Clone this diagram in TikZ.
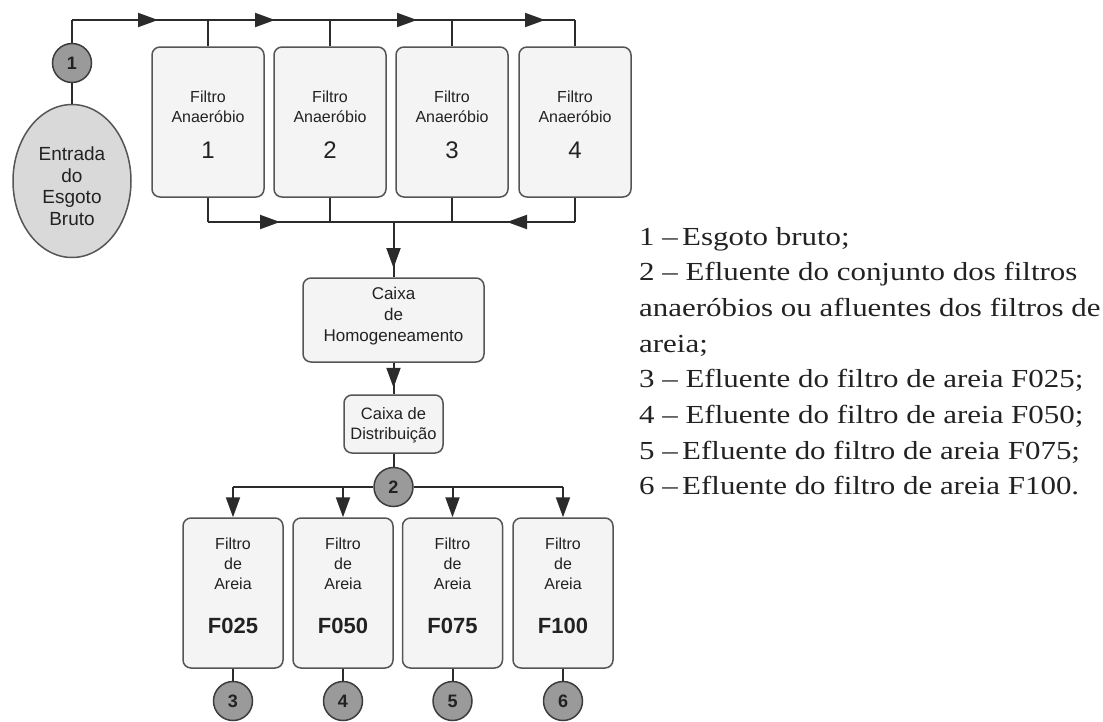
\documentclass[tikz,border=0pt]{standalone}
\usepackage{fontspec}
\setmainfont{Liberation Sans}
\newfontfamily\legendfont[FakeStretch=1.19]{Liberation Serif}
\usetikzlibrary{shapes.geometric,arrows.meta,decorations.markings}
\definecolor{linec}{HTML}{2B2B2B}
\definecolor{boxdraw}{HTML}{555555}
\definecolor{boxfill}{HTML}{F4F4F4}
\definecolor{dotfill}{HTML}{9A9A9A}
\definecolor{dotdraw}{HTML}{3C3C3C}
\definecolor{ellfill}{HTML}{D9D9D9}
\definecolor{txtc}{HTML}{222222}
\newcommand\mytip{\arrow{Triangle[length=20pt,width=14pt]}}
\tikzset{
  flow/.style={draw=linec, line width=2pt},
  tipend/.style={-{Triangle[length=20pt,width=14pt]}},
  boxnode/.style={rectangle, rounded corners=8pt, draw=boxdraw, line width=1.5pt, fill=boxfill, inner sep=0pt},
  dotnode/.style={circle, minimum size=39pt, inner sep=0pt, fill=dotfill, draw=dotdraw, line width=1.5pt, text=txtc, font=\bfseries\fontsize{18}{18}\selectfont},
  ellnode/.style={ellipse, minimum width=118pt, minimum height=153pt, inner sep=0pt, fill=ellfill, draw=boxdraw, line width=1.5pt},
  btxt/.style={align=center, text=txtc, inner sep=0pt, font=\fontsize{16}{20}\selectfont},
  bnum/.style={text=txtc, inner sep=0pt, font=\fontsize{24}{24}\selectfont},
  bbold/.style={text=txtc, inner sep=0pt, font=\bfseries\fontsize{22}{22}\selectfont},
  leg/.style={anchor=base west, inner sep=0pt, text=txtc, font=\legendfont\fontsize{26}{30}\selectfont},
}
\begin{document}
\begin{tikzpicture}[x=1pt,y=-1pt]
\path[use as bounding box] (0,0) rectangle (1103,721);

% inlet
\node[ellnode] (ent) at (72,181) {};
\node[btxt, font=\fontsize{19}{21.5}\selectfont] (entt) at (72,186) {Entrada\\do\\Esgoto\\Bruto};
\node[dotnode] (c1) at (72,63) {1};

% anaerobic filters
\foreach \n/\x in {1/208,2/330,3/452,4/575}{
  \node[boxnode, minimum width=112pt, minimum height=150pt] (a\n) at (\x,122) {};
  \node[btxt] (a\n t) at (\x,107) {Filtro\\Anaeróbio};
  \node[bnum] (a\n n) at (\x,150) {\n};
}

% boxes
\node[boxnode, minimum width=181pt, minimum height=84pt] (h) at (393.5,320) {};
\node[btxt, font=\fontsize{17}{21}\selectfont] (ht) at (393.5,316) {Caixa\\de\\Homogeneamento};
\node[boxnode, minimum width=99pt, minimum height=58pt] (d) at (393.5,424) {};
\node[btxt, font=\fontsize{16.5}{20}\selectfont] (dt) at (393.5,425) {Caixa de\\Distribuição};
\node[dotnode] (c2) at (393.5,487) {2};

% sand filters
\foreach \n/\x/\lab/\k in {1/233/F025/3,2/343/F050/4,3/452.5/F075/5,4/563/F100/6}{
  \node[boxnode, minimum width=100pt, minimum height=150pt] (s\n) at (\x,593) {};
  \node[btxt] (s\n t) at (\x,564) {Filtro\\de\\Areia};
  \node[bbold] (s\n n) at (\x,626) {\lab};
  \node[dotnode] (o\n) at (\x,701) {\k};
}

% top manifold
\coordinate (tl) at (72,20);
\coordinate (tr) at (575,20);
\draw[flow] (c1.south) -- (ent.north);
\draw[flow] (c1.north) -- (tl);
\draw[flow, postaction={decorate}, decoration={markings,
  mark=at position 86pt with {\mytip},
  mark=at position 203pt with {\mytip},
  mark=at position 345pt with {\mytip},
  mark=at position 473pt with {\mytip}}] (tl) -- (tr);
\foreach \n in {1,2,3,4}{ \draw[flow] (a\n.north |- tl) -- (a\n.north); }

% bottom manifold
\coordinate (bl) at (208,222);
\coordinate (br) at (575,222);
\coordinate (jn) at (393.5,222);
\foreach \n in {1,2,3,4}{ \draw[flow] (a\n.south) -- (a\n.south |- bl); }
\draw[flow, postaction={decorate}, decoration={markings, mark=at position 72pt with {\mytip}}] (bl) -- (jn);
\draw[flow, postaction={decorate}, decoration={markings, mark=at position 68pt with {\mytip}}] (br) -- (jn);
\draw[flow, postaction={decorate}, decoration={markings, mark=at position 46pt with {\mytip}}] (jn) -- (h.north);
\draw[flow, postaction={decorate}, decoration={markings, mark=at position 25pt with {\mytip}}] (h.south) -- (d.north);
\draw[flow] (d.south) -- (c2.north);

% distribution manifold
\coordinate (sl) at (233,487);
\coordinate (sr) at (563,487);
\draw[flow] (c2.west) -- (sl);
\draw[flow] (c2.east) -- (sr);
\draw[flow, tipend] (sl) -- (s1.north);
\draw[flow, tipend] (sr) -- (s4.north);
\draw[flow, tipend] (s2.north |- sl) -- (s2.north);
\draw[flow, tipend] (s3.north |- sl) -- (s3.north);
\foreach \n in {1,2,3,4}{ \draw[flow] (s\n.south) -- (o\n.north); }

% legend
\node[leg] (l1) at (639,245) {1 –\,Esgoto bruto;};
\node[leg] (l2) at (639,280.7) {2 – Efluente do conjunto dos filtros};
\node[leg] (l3) at (639,316.4) {anaeróbios ou afluentes dos filtros de};
\node[leg] (l4) at (639,352.1) {areia;};
\node[leg] (l5) at (639,387.8) {3 – Efluente do filtro de areia F025;};
\node[leg] (l6) at (639,423.5) {4 – Efluente do filtro de areia F050;};
\node[leg] (l7) at (639,459.2) {5 –\,Efluente do filtro de areia F075;};
\node[leg] (l8) at (639,494.9) {6 –\,Efluente do filtro de areia F100.};
\end{tikzpicture}
\end{document}
